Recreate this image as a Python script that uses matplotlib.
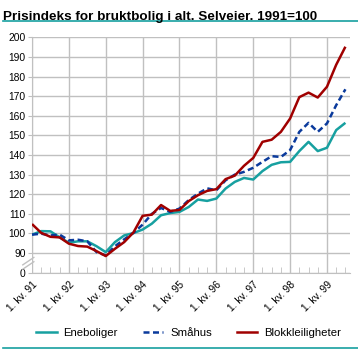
import matplotlib
matplotlib.use("Agg")
import matplotlib.pyplot as plt
from matplotlib.lines import Line2D

# Quarterly price index for used dwellings, 1.kv.91 - 3.kv.99 (1991=100)
quarters = list(range(35))
eneboliger = [99.4, 101.2, 101.1, 98.0, 95.3, 96.0, 96.0, 93.5, 90.5, 95.6,
              99.0, 100.2, 102.0, 105.0, 109.3, 110.4, 111.0, 113.5, 117.3, 116.6,
              117.8, 122.9, 126.3, 128.3, 127.5, 131.8, 135.0, 136.3, 136.5, 142.0,
              146.7, 142.0, 143.7, 152.7, 156.4]
smaahus = [99.4, 99.9, 99.0, 99.4, 96.5, 96.8, 96.0, 90.5, 88.8, 93.5,
           97.0, 100.3, 104.5, 110.0, 113.0, 111.0, 112.7, 117.0, 120.3, 123.0,
           122.0, 127.1, 130.0, 131.4, 133.5, 136.5, 139.4, 139.0, 142.5, 151.8,
           156.4, 151.8, 156.1, 165.4, 173.5]
blokk = [104.8, 100.3, 98.3, 98.0, 94.8, 93.6, 93.3, 91.0, 88.5, 92.2,
         95.6, 100.5, 109.0, 109.6, 114.5, 111.5, 112.0, 116.5, 119.5, 121.7,
         122.6, 127.7, 129.5, 134.5, 138.5, 146.7, 147.8, 151.8, 158.6, 169.5,
         171.8, 169.3, 174.8, 186.0, 195.2]

year_ticks = [0, 4, 8, 12, 16, 20, 24, 28, 32]
year_labels = ["1. kv. 91", "1. kv. 92", "1. kv. 93", "1. kv. 94", "1. kv. 95",
               "1. kv. 96", "1. kv. 97", "1. kv. 98", "1. kv. 99"]
# The axis is broken: the bottom position carries the label 0
y_ticks = [80, 90, 100, 110, 120, 130, 140, 150, 160, 170, 180, 190, 200]
y_labels = ["0"] + [str(v) for v in y_ticks[1:]]

series_names = ["Eneboliger", "Småhus", "Blokkleiligheter"]
colors = ["#17a0a0", "#0a3a9c", "#a00000"]

plt.rcParams["font.family"] = ["Liberation Sans", "DejaVu Sans"]

fig = plt.figure(figsize=(3.58, 3.49), dpi=100)
ax = fig.add_axes([0.0894, 0.2186, 0.9777 - 0.0894, 0.8931 - 0.2186])

grid_c = "#c0c0c0"
ax.plot(quarters, eneboliger, color=colors[0], lw=1.8, solid_capstyle="butt", zorder=3)
ax.plot(quarters, smaahus, color=colors[1], lw=1.8, dashes=(2.4, 1.4), zorder=3)
ax.plot(quarters, blokk, color=colors[2], lw=1.8, solid_capstyle="butt", zorder=3)

ax.set_xlim(0, 34.5)
ax.set_ylim(80, 200)
ax.set_xticks(year_ticks)
ax.set_xticklabels(year_labels, rotation=45, ha="right", rotation_mode="anchor",
                   fontsize=7.4)
ax.set_xticks(quarters, minor=True)
ax.set_yticks(y_ticks)
ax.set_yticklabels(y_labels, fontsize=7.4)

ax.grid(True, which="major", color=grid_c, lw=1.0)
ax.set_axisbelow(True)
ax.tick_params(axis="y", which="major", direction="out", length=3, color=grid_c,
               pad=1.5)
ax.tick_params(axis="x", which="major", length=0, pad=5)
ax.tick_params(axis="x", which="minor", direction="in", length=4, color=grid_c)

for side in ("top", "right"):
    ax.spines[side].set_visible(False)
ax.spines["left"].set_color(grid_c)
ax.spines["bottom"].set_color(grid_c)
ax.spines["left"].set_bounds(90, 200)

# Axis break marks between 0 and 90
for dy in (0, 2.2):
    ax.plot([-1.0, 0.2], [81.8 + dy, 85.6 + dy], color=grid_c, lw=1.0,
            clip_on=False, zorder=2, transform=ax.transData)

fig.text(0.008, 0.968, "Prisindeks for bruktbolig i alt. Selveier. 1991=100",
         fontsize=9.7, fontweight="bold", va="top", ha="left")

# Teal rules above the plot and below the legend
fig.add_artist(Line2D([0.008, 1.0], [0.939, 0.939], color="#17a0a0", lw=1.2))
fig.add_artist(Line2D([0.008, 1.0], [0.004, 0.004], color="#17a0a0", lw=1.2))

handles = [Line2D([], [], color=colors[0], lw=1.8),
           Line2D([], [], color=colors[1], lw=1.8, dashes=(2.4, 1.4)),
           Line2D([], [], color=colors[2], lw=1.8)]
fig.legend(handles, series_names, loc="center left",
           bbox_to_anchor=(36 / 358, 0.047), borderaxespad=0, borderpad=0,
           ncol=3, frameon=False, fontsize=8.2, handlelength=1.8,
           handletextpad=0.6, columnspacing=2.2)

fig.savefig("out.png", dpi=100)
